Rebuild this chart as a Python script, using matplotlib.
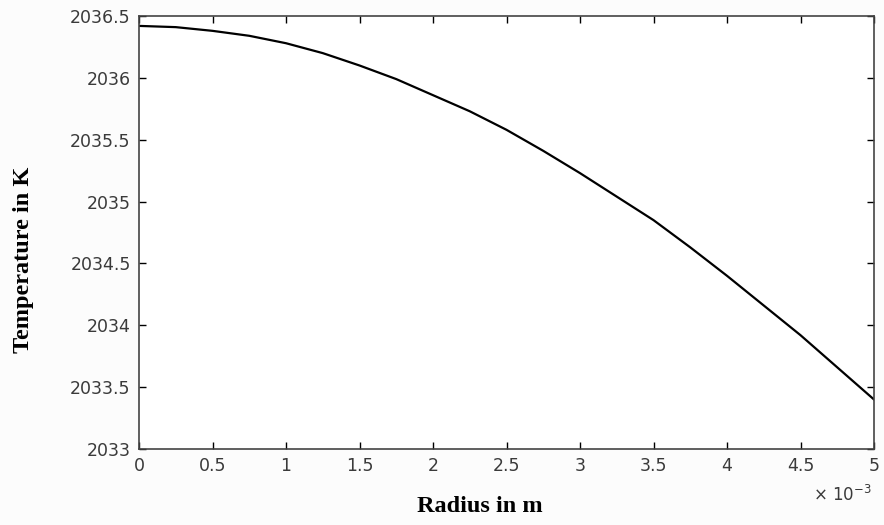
import matplotlib
matplotlib.use("Agg")
import matplotlib.pyplot as plt

# Radius in units of 1e-3 m
radius = [0.0, 0.25, 0.5, 0.75, 1.0, 1.25, 1.5, 1.75, 2.0, 2.25, 2.5,
          2.75, 3.0, 3.25, 3.5, 3.75, 4.0, 4.25, 4.5, 4.75, 5.0]
temperature = [2036.42, 2036.41, 2036.38, 2036.34, 2036.28, 2036.20, 2036.10,
               2035.99, 2035.86, 2035.73, 2035.58, 2035.41, 2035.23, 2035.04,
               2034.85, 2034.63, 2034.40, 2034.16, 2033.92, 2033.66, 2033.40]

xticks = [0, 0.5, 1, 1.5, 2, 2.5, 3, 3.5, 4, 4.5, 5]
xticklabels = ["0", "0.5", "1", "1.5", "2", "2.5", "3", "3.5", "4", "4.5", "5"]
yticks = [2033, 2033.5, 2034, 2034.5, 2035, 2035.5, 2036, 2036.5]
yticklabels = ["2033", "2033.5", "2034", "2034.5", "2035", "2035.5", "2036", "2036.5"]

fig = plt.figure(figsize=(8.84, 5.25), dpi=100, facecolor="#fcfcfc")
ax = fig.add_axes([139/884, 1-449/525, (874-139)/884, (449-16)/525])
ax.set_facecolor("white")
ax.plot(radius, temperature, color="black", lw=1.6)
ax.set_xlim(0, 5)
ax.set_ylim(2033, 2036.5)
ax.set_xticks(xticks)
ax.set_xticklabels(xticklabels)
ax.set_yticks(yticks)
ax.set_yticklabels(yticklabels)
ax.tick_params(direction="in", length=5, width=1, top=True, right=True,
               labelsize=12.5, labelcolor="#3a3a3a")
ax.tick_params(axis="y", pad=6)
ax.tick_params(axis="x", pad=6)
for lab in ax.get_xticklabels() + ax.get_yticklabels():
    lab.set_family("DejaVu Sans")
for s in ax.spines.values():
    s.set_color("#444444")
    s.set_linewidth(1.2)

ax.set_xlabel("Radius in m", family="Liberation Serif", fontweight="bold",
              fontsize=17.5)
ax.set_ylabel("Temperature in K", family="Liberation Serif", fontweight="bold",
              fontsize=17.5)
ax.xaxis.label.set_va("center")
ax.xaxis.label.set_ha("center")
ax.yaxis.label.set_va("center")
ax.yaxis.label.set_ha("center")
ax.xaxis.set_label_coords((480-139)/735, (449-507)/433)
ax.yaxis.set_label_coords((23-139)/735, (449-260)/433)

fig.text(872/884, 1-495/525, r"$\times$ 10$^{-3}$", ha="right", va="center",
         fontsize=12, color="#3a3a3a", family="DejaVu Sans")

fig.savefig("out.png", dpi=100, facecolor=fig.get_facecolor())
